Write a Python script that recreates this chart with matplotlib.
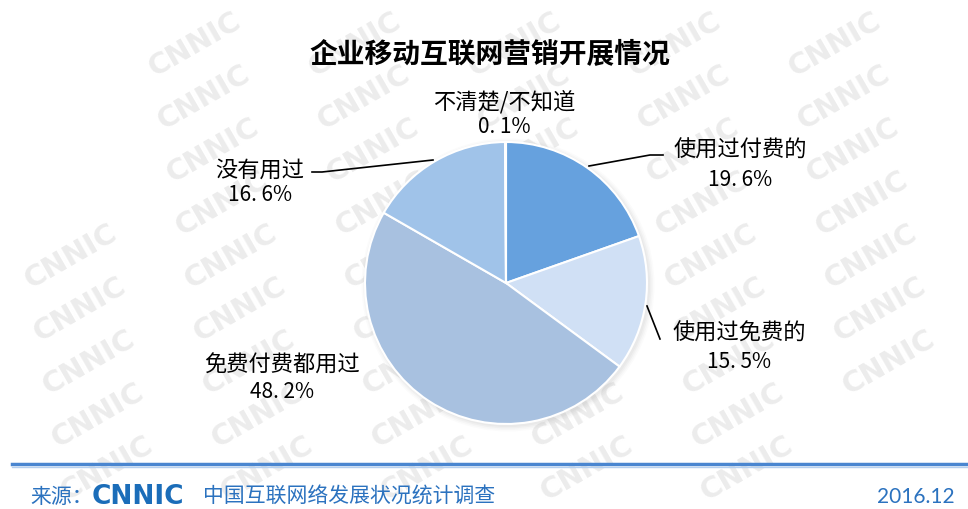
import matplotlib.pyplot as plt
from matplotlib.patches import Circle

plt.rcParams['font.family'] = ['Noto Sans CJK SC', 'DejaVu Sans']

# data (clockwise from top)
labels = ['使用过付费的', '使用过免费的', '免费付费都用过', '没有用过', '不清楚/不知道']
values = [19.6, 15.5, 48.2, 16.6, 0.1]
pct_text = ['19. 6%', '15. 5%', '48. 2%', '16. 6%', '0. 1%']
colors = ['#66a1de', '#d0e0f5', '#a8c1e0', '#a0c3e9', '#9fc2e8']

W, H = 968, 510
fig = plt.figure(figsize=(W / 100, H / 100), dpi=100)
ax = fig.add_axes([0, 0, 1, 1])


def py(y):
    # pixel row -> data y
    return H - y


# watermark, only where it fits fully inside the canvas
for row in range(10):
    y = 45 + row * 53
    for col in range(-1, 7):
        x = 35 + col * 160 + row * 9
        if 70 < x < W - 70 and 40 < y < H - 35:
            ax.text(x, py(y), 'CNNIC', fontsize=21, fontweight='bold', color='#ececec',
                    rotation=30, ha='center', va='center', family='DejaVu Sans', zorder=0)

# title
ax.text(490, py(55), '企业移动互联网营销开展情况', fontsize=20, fontweight='bold',
        ha='center', va='center', zorder=5)

# soft shadow under the pie
cx, cy, r = 506, py(284), 141
for i, a in enumerate([0.06, 0.05, 0.04, 0.03]):
    ax.add_patch(Circle((cx + 2, cy - 2), r + 1 + i * 1.5, color='#888888', alpha=a, lw=0, zorder=1))

ax.pie(values, colors=colors, startangle=90, counterclock=False, center=(cx, cy), radius=r,
       wedgeprops=dict(edgecolor='white', linewidth=1.5, zorder=2), frame=True)
ax.set_xlim(0, W)
ax.set_ylim(0, H)
ax.set_aspect('equal')
ax.axis('off')

# labels
label_pos = [(740, 150, 180), (739, 333, 362), (282, 365, 392), (260, 170, 195), (504, 102, 127)]
for lab, pct, (x, y1, y2) in zip(labels, pct_text, label_pos):
    ax.text(x, py(y1), lab, fontsize=16, ha='center', va='center', zorder=5)
    ax.text(x, py(y2), pct, fontsize=15, ha='center', va='center', zorder=5)

# leader lines
leaders = [[(589, 167), (650, 156), (663, 156)],
           [(647, 307), (660, 340)],
           [(312, 173), (322, 173), (433, 161)]]
for pts in leaders:
    ax.plot([p[0] for p in pts], [py(p[1]) for p in pts], color='black', lw=1.2, zorder=5)

# footer
ax.plot([12, W], [py(465), py(465)], color='#4a86d0', lw=2.5, zorder=5)
ax.plot([12, W], [py(468), py(468)], color='#b5cfee', lw=1, zorder=5)
blue = '#2b72bf'
ax.text(30, py(497), '来源：', fontsize=15, color=blue, ha='left', va='center', zorder=5)
ax.text(92, py(497), 'CNNIC', fontsize=19, fontweight='heavy', color='#1b6db9',
        ha='left', va='center', family='DejaVu Sans', zorder=5)
ax.text(203, py(497), '中国互联网络发展状况统计调查', fontsize=15, color=blue,
        ha='left', va='center', zorder=5)
ax.text(955, py(497), '2016.12', fontsize=15, color=blue, ha='right', va='center',
        family='Lato', zorder=5)

fig.savefig('out.png', dpi=100, facecolor='white')
